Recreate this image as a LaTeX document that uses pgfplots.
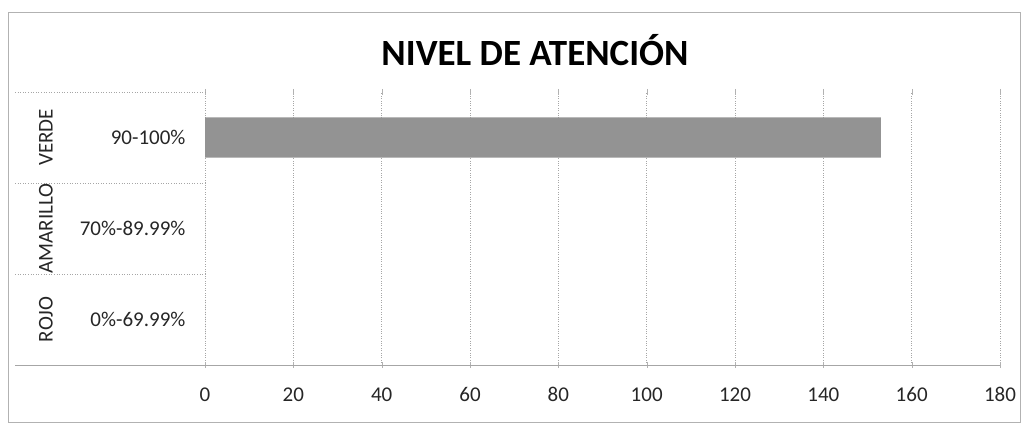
\documentclass[border=0pt]{standalone}
\usepackage{pgfplots}
\pgfplotsset{compat=1.18}
\usepackage{fontspec}
\setmainfont{Carlito}
\begin{document}
\begin{tikzpicture}
\path[use as bounding box] (0pt,0pt) rectangle (1027pt,428pt);
\draw[gray!60, line width=0.8pt] (8pt,6pt) rectangle (1020pt,416pt);
\node[font=\fontsize{37}{37}\selectfont\bfseries] at (535pt,378pt) {NIVEL DE ATENCIÓN};
\begin{axis}[
  at={(205pt,63pt)}, anchor=south west,
  scale only axis, width=795pt, height=273pt,
  xmin=0, xmax=180, ymin=-0.5, ymax=2.5,
  xtick={0,20,...,180}, ytick={0,1,2},
  yticklabels={0\%-69.99\%,70\%-89.99\%,90-100\%},
  axis line style={draw=none},
  xmajorgrids, grid style={gray!70, dotted, line width=0.6pt},
  xtick style={gray!60}, ytick style={draw=none},
  major tick length=6pt, xtick align=center,
  tick label style={font=\fontsize{21}{21}\selectfont, text=black!85},
  /pgf/number format/assume math mode=true,
  xticklabel style={yshift=-16pt},
  yticklabel style={xshift=-10pt},
  clip=false, xbar, bar width=0.44,
]
\addplot[fill=gray!85, draw=none] coordinates {(153,2) (0,1) (0,0)};
\draw[gray!70, dotted, line width=0.6pt] (axis cs:-43,2.5) -- (axis cs:0,2.5);
\draw[gray!70, dotted, line width=0.6pt] (axis cs:-43,1.5) -- (axis cs:0,1.5);
\draw[gray!70, dotted, line width=0.6pt] (axis cs:-43,0.5) -- (axis cs:0,0.5);
\draw[gray!70, line width=0.6pt] (axis cs:-43,-0.5) -- (axis cs:180,-0.5);
\node[rotate=90, font=\fontsize{21}{21}\selectfont, text=black!85] at (axis cs:-36,2) {VERDE};
\node[rotate=90, font=\fontsize{21}{21}\selectfont, text=black!85] at (axis cs:-36,1) {AMARILLO};
\node[rotate=90, font=\fontsize{21}{21}\selectfont, text=black!85] at (axis cs:-36,0) {ROJO};
\end{axis}
\end{tikzpicture}
\end{document}
